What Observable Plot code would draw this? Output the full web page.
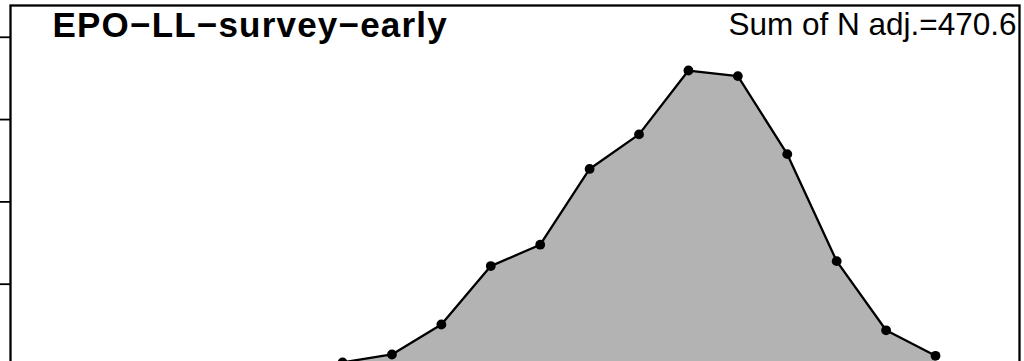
<!DOCTYPE html>
<html>
<head>
<meta charset="utf-8">
<script src="https://cdn.jsdelivr.net/npm/d3@7"></script>
<script src="https://cdn.jsdelivr.net/npm/@observablehq/plot@0.6"></script>
<style>
html, body { margin: 0; padding: 0; overflow: hidden; background: #fff; }
#chart svg { display: block; }
</style>
</head>
<body>
<div id="chart"></div>
<script>
const bins = [7, 8, 9, 10, 11, 12, 13, 14, 15, 16, 17, 18, 19];
const proportions = [0.0025, 0.0073, 0.0255, 0.061, 0.074, 0.12, 0.141, 0.1798, 0.1764, 0.129, 0.064, 0.022, 0.0065];
const yTicks = [0, 0.05, 0.1, 0.15, 0.2];
const title = "EPO\u2212LL\u2212survey\u2212early";
const sumLabel = "Sum of N adj.=470.6";

const data = bins.map((b, i) => ({bin: b, prop: proportions[i]}));

const chart = Plot.plot({
  width: 1024,
  height: 400,
  marginLeft: 10,
  marginRight: 5,
  marginTop: 5,
  marginBottom: 34,
  style: {background: "#fff", fontFamily: "Liberation Sans, Arial, sans-serif"},
  x: {domain: [0.28, 20.7], axis: null},
  y: {domain: [0, 0.2193], axis: null},
  marks: [
    Plot.areaY(data, {x: "bin", y: "prop", fill: "#b3b3b3"}),
    Plot.line(data, {x: "bin", y: "prop", stroke: "black", strokeWidth: 2.3}),
    Plot.dot(data, {x: "bin", y: "prop", r: 4.9, fill: "black", stroke: "none"}),
    Plot.axisY(yTicks, {anchor: "left", tickSize: 10, tickFormat: () => "", label: null, stroke: "black", strokeWidth: 1.8}),
    Plot.frame({stroke: "black", strokeWidth: 2.3}),
    Plot.text([title], {frameAnchor: "top-left", dx: 42, dy: 7, text: d => d, fontSize: 35, fontWeight: "bold", fill: "black", style: "letter-spacing: 1px"}),
    Plot.text([sumLabel], {frameAnchor: "top-right", dx: -3, dy: 7, text: d => d, fontSize: 31.5, fill: "black"})
  ]
});
chart.querySelectorAll("text").forEach(t => {
  if (t.textContent === title) t.setAttribute("letter-spacing", "1.2");
});
document.getElementById("chart").appendChild(chart);
</script>
</body>
</html>
